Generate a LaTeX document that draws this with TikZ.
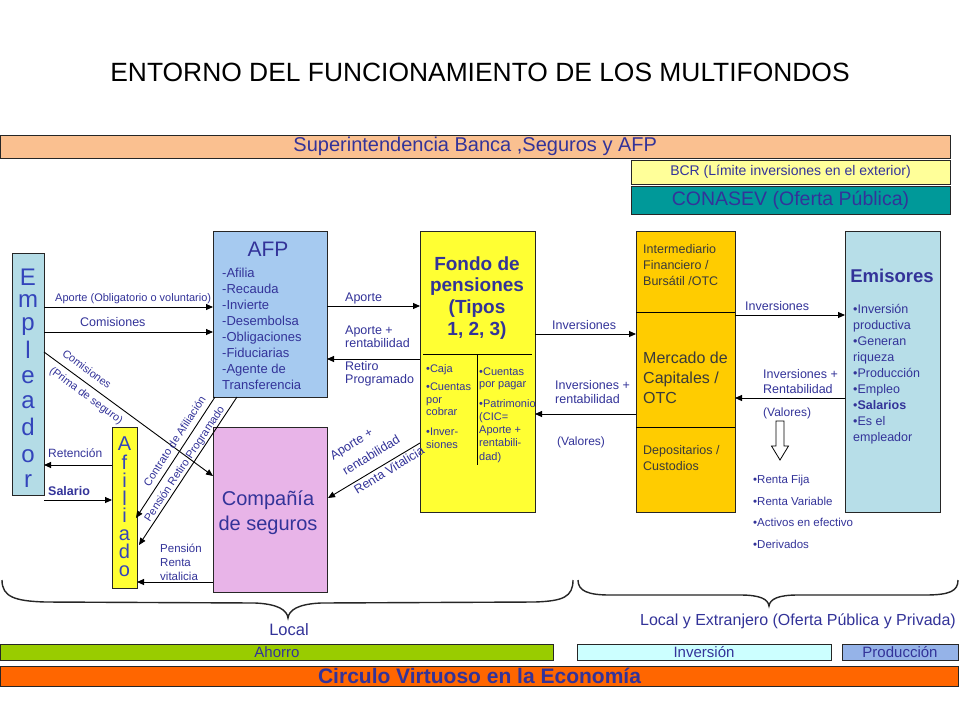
\documentclass[tikz,border=0pt]{standalone}
\usepackage{fontspec}
\setmainfont{Liberation Sans}
\usetikzlibrary{arrows.meta,calc}
\definecolor{tblue}{HTML}{333399}
\definecolor{lblue}{HTML}{3344BB}
\definecolor{dgray}{HTML}{3A3A3A}
\definecolor{supc}{HTML}{FAC090}
\definecolor{bcrc}{HTML}{FFFF99}
\definecolor{conc}{HTML}{009999}
\definecolor{empc}{HTML}{B4DCE6}
\definecolor{afpc}{HTML}{A6CAF0}
\definecolor{yelc}{HTML}{FFFF33}
\definecolor{mercc}{HTML}{FFCC00}
\definecolor{emic}{HTML}{B7DEE8}
\definecolor{compc}{HTML}{E8B4E8}
\definecolor{ahoc}{HTML}{99CC00}
\definecolor{invc}{HTML}{CCFFFF}
\definecolor{proc}{HTML}{95B3E8}
\definecolor{circc}{HTML}{FF6600}
\newcommand\fsz[1]{\fontsize{#1}{#1}\selectfont}
\begin{document}
\begin{tikzpicture}[x=1pt,y=-1pt,
  box/.style={draw=black!85, line width=0.8pt, inner sep=0pt, outer sep=0pt, anchor=north west},
  arr/.style={-{Triangle[length=7pt,width=6pt]}, line width=0.9pt, black},
  lbl/.style={text=tblue, inner sep=0pt, anchor=base west, font=\fsz{12.5}},
  rlbl/.style={text=tblue, inner sep=0pt, font=\fsz{12}},
  brace/.style={line width=1.4pt, black!85}]
\useasboundingbox (0,0) rectangle (960,720);
\fill[white] (0,0) rectangle (960,720);

% title
\node[anchor=base, font=\fsz{26.4}, inner sep=0pt] (title) at (480,81) {ENTORNO DEL FUNCIONAMIENTO DE LOS MULTIFONDOS};

% top bars
\node[box, fill=supc, minimum width=949.5, minimum height=23, text=tblue, font=\fsz{20}] (sup) at (0.5,135) {Superintendencia Banca ,Seguros y AFP};
\node[box, fill=bcrc, minimum width=319, minimum height=24, text=tblue, font=\fsz{14}] (bcr) at (631,160) {BCR (Límite inversiones en el exterior)};
\node[box, fill=conc, minimum width=319, minimum height=28, text=tblue, font=\fsz{19.5}] (con) at (631,186) {CONASEV (Oferta Pública)};

% main boxes
\node[box, fill=empc, minimum width=32, minimum height=242] (emp) at (12,253) {};
\node[box, fill=afpc, minimum width=114, minimum height=166] (afp) at (213,231) {};
\node[box, fill=yelc, minimum width=115, minimum height=281] (fondo) at (420,231) {};
\node[box, fill=mercc, minimum width=99, minimum height=281] (merc) at (636,231) {};
\node[box, fill=emic, minimum width=95, minimum height=281] (emis) at (845,231) {};
\node[box, fill=yelc, minimum width=25, minimum height=161] (afil) at (112,427) {};
\node[box, fill=compc, minimum width=114, minimum height=165] (comp) at (213,427) {};

% Empleador letters
\foreach \c/\yy [count=\i] in {E/285,m/307,p/330,l/358,e/383,a/408,d/435,o/462,r/487}
  \node[anchor=base, font=\fsz{24}, text=lblue, inner sep=0pt] (empl\i) at (28,\yy) {\c};
% Afiliado letters
\foreach \c/\yy [count=\i] in {A/450,f/469,i/487,l/505,i/522,a/540,d/558,o/576}
  \node[anchor=base, font=\fsz{20}, text=lblue, inner sep=0pt] (afil\i) at (124.5,\yy) {\c};

% AFP text
\node[anchor=base, font=\fsz{21}, text=tblue, inner sep=0pt] (afpt) at (268,256) {AFP};
\foreach \t [count=\i] in {-Afilia,-Recauda,-Invierte,-Desembolsa,-Obligaciones,-Fiduciarias,-Agente de,Transferencia}
  \node[lbl, font=\fsz{13}] (afpi\i) at (222,{277+16*(\i-1)}) {\t};

% Fondo text
\foreach \t/\yy [count=\i] in {{Fondo de}/270,{pensiones}/291,{(Tipos}/313,{1, 2, 3)}/335}
  \node[anchor=base, font=\bfseries\fsz{19}, text=tblue, inner sep=0pt] (fondot\i) at (477,\yy) {\t};
\draw[line width=0.8pt] ($(fondo.north west)+(3,123)$) -- ($(fondo.north east)+(-3,123)$);
\draw[line width=0.8pt] ($(fondo.north west)+(57,123)$) -- ($(fondo.north west)+(57,234)$);
\foreach \t/\yy [count=\i] in {{•Caja}/372,{•Cuentas}/390,{por}/403,{cobrar}/415,{•Inver-}/435,{siones}/448}
  \node[lbl, font=\fsz{11}] (fl\i) at (426,\yy) {\t};
\foreach \t/\yy [count=\i] in {{•Cuentas}/375,{por pagar}/387,{•Patrimonio}/407,{(CIC=}/420,{Aporte +}/433,{rentabili-}/446,{dad)}/460}
  \node[lbl, font=\fsz{11}] (fr\i) at (479,\yy) {\t};

% Mercado text
\draw[line width=0.8pt] ($(merc.north west)+(0,81)$) -- ($(merc.north east)+(0,81)$);
\draw[line width=0.8pt] ($(merc.north west)+(0,196)$) -- ($(merc.north east)+(0,196)$);
\node[lbl, text=dgray, font=\fsz{12.5}] (m1) at (643,253) {Intermediario};
\node[lbl, text=dgray, font=\fsz{12.5}] (m2) at (643,269) {Financiero /};
\node[lbl, text=dgray, font=\fsz{12.5}] (m3) at (643,285) {Bursátil /OTC};
\node[lbl, text=dgray, font=\fsz{16}] (m4) at (643,363) {Mercado de};
\node[lbl, text=dgray, font=\fsz{16}] (m5) at (643,383) {Capitales /};
\node[lbl, text=dgray, font=\fsz{16}] (m6) at (643,403) {OTC};
\node[lbl, text=dgray, font=\fsz{12.5}] (m7) at (643,454) {Depositarios /};
\node[lbl, text=dgray, font=\fsz{12.5}] (m8) at (643,470) {Custodios};

% Emisores text
\node[anchor=base, font=\bfseries\fsz{18.5}, text=tblue, inner sep=0pt] (emist) at (892,282) {Emisores};
\foreach \t/\yy [count=\i] in {{•Inversión}/313,{productiva}/329,{•Generan}/345,{riqueza}/361,{•Producción}/377,{•Empleo}/393,{•\textbf{Salarios}}/409,{•Es el}/425,{empleador}/441}
  \node[lbl, font=\fsz{12.5}] (ei\i) at (853,\yy) {\t};

% Compania text
\node[anchor=base, font=\fsz{20}, text=tblue, inner sep=0pt] (ct1) at (268,505) {Compañía};
\node[anchor=base, font=\fsz{20}, text=tblue, inner sep=0pt] (ct2) at (268,530) {de seguros};

% horizontal arrows
\coordinate (p1) at ($(emp.north east)+(0,54)$);
\draw[arr] (p1) -- (p1 -| afp.west);
\node[lbl, font=\fsz{11}] (l1) at (55,301) {Aporte (Obligatorio o voluntario)};
\coordinate (p2) at ($(emp.north east)+(0,79)$);
\draw[arr] (p2) -- (p2 -| afp.west);
\node[lbl] (l2) at (80,326) {Comisiones};

\coordinate (p3) at ($(afp.north east)+(0,75)$);
\draw[arr] (p3) -- (p3 -| fondo.west);
\node[lbl] (l3) at (345,301) {Aporte};
\coordinate (p4) at ($(fondo.north west)+(0,128)$);
\draw[arr] (p4) -- (p4 -| afp.east);
\node[lbl] (l4a) at (345,334) {Aporte +};
\node[lbl] (l4b) at (345,347) {rentabilidad};
\node[lbl] (l4c) at (345,370) {Retiro};
\node[lbl] (l4d) at (345,383) {Programado};

\coordinate (p5) at ($(fondo.north east)+(0,103)$);
\draw[arr] (p5) -- (p5 -| merc.west);
\node[lbl] (l5) at (552,329) {Inversiones};
\coordinate (p6) at ($(merc.north west)+(0,183)$);
\draw[arr] (p6) -- (p6 -| fondo.east);
\node[lbl] (l6a) at (555,389) {Inversiones +};
\node[lbl] (l6b) at (555,403) {rentabilidad};
\node[lbl, font=\fsz{12}] (l6c) at (557,445) {(Valores)};

\coordinate (p7) at ($(merc.north east)+(0,84)$);
\draw[arr] (p7) -- (p7 -| emis.west);
\node[lbl] (l7) at (745,310) {Inversiones};
\coordinate (p8) at ($(emis.north west)+(0,167)$);
\draw[arr] (p8) -- (p8 -| merc.east);
\node[lbl] (l8a) at (763,378) {Inversiones +};
\node[lbl] (l8b) at (763,393) {Rentabilidad};
\node[lbl, font=\fsz{12}] (l8c) at (763,416) {(Valores)};

% hollow arrow and list
\draw[fill=white, line width=0.8pt] (776,421) -- (784,421) -- (784,446) -- (788.5,446) -- (780,460) -- (771.5,446) -- (776,446) -- cycle;
\foreach \t/\yy [count=\i] in {{•Renta Fija}/483,{•Renta Variable}/505,{•Activos en efectivo}/526,{•Derivados}/548}
  \node[lbl, font=\fsz{11.5}] (li\i) at (753,\yy) {\t};

% Afiliado arrows
\coordinate (p9) at ($(afil.north west)+(0,38)$);
\draw[arr] (p9) -- (p9 -| emp.east);
\node[lbl, font=\fsz{12}] (l9) at (48,457) {Retención};
\coordinate (p10) at ($(afil.north west)+(0,73)$);
\draw[arr] (p10 -| emp.east) -- (p10);
\node[lbl, font=\bfseries\fsz{12.5}] (l10) at (48,495) {Salario};
\coordinate (p11) at ($(comp.south west)+(0,-10)$);
\draw[arr] (p11) -- (p11 -| afil.east);
\node[lbl, font=\fsz{11.5}] (l11a) at (160,552) {Pensión};
\node[lbl, font=\fsz{11.5}] (l11b) at (160,566) {Renta};
\node[lbl, font=\fsz{11.5}] (l11c) at (160,580) {vitalicia};

% diagonal arrows
\draw[arr] ($(emp.north east)+(0,99)$) -- ($(comp.north west)+(0,49)$);
\node[rlbl, rotate=-36.5, font=\fsz{11}] (d1a) at (87,369) {Comisiones};
\node[rlbl, rotate=-36.5, font=\fsz{11}] (d1b) at (86,396) {(Prima de seguro)};

\draw[arr] ($(afp.south west)+(2,0)$) -- ($(afil.north east)+(-1,91)$);
\node[rlbl, rotate=57, font=\fsz{11}] (d2) at (174.4,441) {Contrato de Afiliación};
\draw[arr] ($(afp.south west)+(24,0)$) -- ($(afil.north east)+(2,118)$);
\node[rlbl, rotate=56.5, font=\fsz{11}] (d3) at (184.9,464) {Pensión Retiro Programado};

\draw[arr] ($(fondo.north west)+(0,212)$) -- ($(comp.north east)+(1,71)$);
\node[rlbl, rotate=31.5, font=\fsz{12.5}] (d4a) at (352,445) {Aporte +};
\node[rlbl, rotate=31.5, font=\fsz{12.5}] (d4b) at (371,455) {rentabilidad};
\node[rlbl, rotate=31.5, font=\fsz{12.5}] (d4c) at (389,470) {Renta Vitalicia};

% braces
\draw[brace] (2,580) .. controls (2,597) and (15,601) .. (45,602) -- (255,603)
  .. controls (278,604) and (287,610) .. (288,618)
  .. controls (289,610) and (298,604) .. (321,603) -- (535,602)
  .. controls (563,601) and (573,597) .. (573,580);
\node[anchor=base, font=\fsz{16.5}, text=tblue, inner sep=0pt] (local) at (289,635) {Local};
\draw[brace] (578,580) .. controls (578,591) and (588,595) .. (610,595) -- (740,595)
  .. controls (760,595) and (768,599) .. (769,606)
  .. controls (770,599) and (778,595) .. (798,595) -- (925,595)
  .. controls (950,595) and (958,591) .. (958,580);
\node[anchor=base, font=\fsz{16}, text=tblue, inner sep=0pt] (ext) at (798,625) {Local y Extranjero (Oferta Pública y Privada)};

% bottom bars
\node[box, fill=ahoc, minimum width=553, minimum height=16, text=tblue, font=\fsz{15}] (aho) at (0.5,644) {Ahorro};
\node[box, fill=invc, minimum width=254, minimum height=16, text=tblue, font=\fsz{15}] (inv) at (577,644) {Inversión};
\node[box, fill=proc, minimum width=116, minimum height=16, text=tblue, font=\fsz{15}] (pro) at (842,644) {Producción};
\node[box, fill=circc, minimum width=958, minimum height=20, text=tblue, font=\bfseries\fsz{21}] (circ) at (0.5,666) {Circulo Virtuoso en la Economía};
\end{tikzpicture}
\end{document}
